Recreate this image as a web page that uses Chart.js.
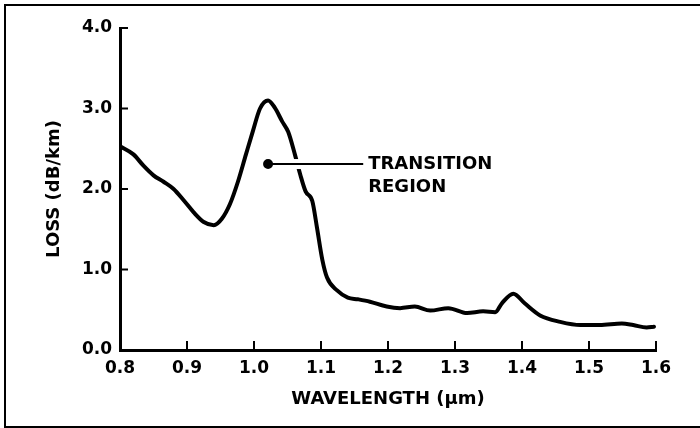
<!DOCTYPE html>
<html>
<head>
<meta charset="utf-8">
<script src="https://cdn.jsdelivr.net/npm/chart.js@4"></script>
<style>
    body { margin: 0; background: #fff; overflow: hidden; }
    .wrap { position: relative; width: 700px; height: 428px; overflow: hidden; }
    .frame {
        position: absolute; left: 4px; top: 4px; width: 720px; height: 420px;
        border-left: 2px solid #000; border-top: 2px solid #000; border-bottom: 2px solid #000;
        pointer-events: none;
    }
</style>
</head>
<body>
<div class="wrap">
    <canvas id="lossChart" width="700" height="428"></canvas>
    <div class="frame"></div>
</div>
<script>
const wavelength = [0.80, 0.82, 0.835, 0.85, 0.865, 0.88, 0.895, 0.91, 0.925, 0.94,
    0.952, 0.964, 0.976, 0.988, 0.998, 1.009, 1.021, 1.031, 1.042, 1.051,
    1.061, 1.069, 1.077, 1.087, 1.094, 1.102, 1.109, 1.124, 1.14, 1.155,
    1.173, 1.198, 1.218, 1.24, 1.263, 1.29, 1.318, 1.342, 1.36, 1.37,
    1.387, 1.404, 1.427, 1.457, 1.487, 1.516, 1.549, 1.566, 1.586, 1.597];
const loss = [2.53, 2.43, 2.29, 2.17, 2.09, 2.00, 1.86, 1.71, 1.59, 1.55,
    1.63, 1.81, 2.09, 2.43, 2.71, 3.00, 3.10, 3.01, 2.84, 2.71,
    2.43, 2.18, 1.97, 1.85, 1.52, 1.12, 0.90, 0.74, 0.65, 0.63,
    0.60, 0.54, 0.52, 0.54, 0.49, 0.52, 0.46, 0.48, 0.47, 0.58,
    0.70, 0.58, 0.43, 0.35, 0.31, 0.31, 0.33, 0.31, 0.28, 0.29];

const xTicks = [0.8, 0.9, 1.0, 1.1, 1.2, 1.3, 1.4, 1.5, 1.6];
const yTicks = [0, 1, 2, 3, 4];

// callout: dot on the peak flank, leader line out to the label
const calloutStart = { x: 1.021, y: 2.31 };
const calloutEnd = { x: 1.163, y: 2.31 };
const calloutText = ['TRANSITION', 'REGION'];

const FONT = '"DejaVu Sans", sans-serif';

// tick marks point into the plot, so draw them by hand
const inwardTicks = {
    id: 'inwardTicks',
    afterDraw(chart) {
        const { ctx, scales: { x, y } } = chart;
        ctx.save();
        ctx.strokeStyle = '#000';
        ctx.lineWidth = 2;
        yTicks.forEach(v => {
            const py = y.getPixelForValue(v);
            ctx.beginPath();
            ctx.moveTo(x.left, py);
            ctx.lineTo(x.left + 8, py);
            ctx.stroke();
        });
        xTicks.forEach(v => {
            const px = x.getPixelForValue(v);
            ctx.beginPath();
            ctx.moveTo(px, y.bottom);
            ctx.lineTo(px, y.bottom - 9);
            ctx.stroke();
        });
        ctx.restore();
    }
};

const calloutLabel = {
    id: 'calloutLabel',
    afterDraw(chart) {
        const { ctx, scales: { x, y } } = chart;
        const px = x.getPixelForValue(calloutEnd.x) + 5;
        const py = y.getPixelForValue(calloutEnd.y);
        ctx.save();
        ctx.fillStyle = '#000';
        ctx.font = 'bold 18px ' + FONT;
        ctx.textBaseline = 'middle';
        ctx.fillText(calloutText[0], px, py);
        ctx.fillText(calloutText[1], px, py + 23);
        ctx.restore();
    }
};

new Chart(document.getElementById('lossChart'), {
    type: 'line',
    data: {
        datasets: [{
            // leader line with its dot
            data: [calloutStart, calloutEnd],
            borderColor: '#000',
            backgroundColor: '#000',
            borderWidth: 2,
            pointRadius: [4, 0],
            tension: 0,
        }, {
            // white gap where the leader crosses the curve
            data: [{ x: 1.045, y: calloutStart.y }, { x: 1.09, y: calloutStart.y }],
            borderColor: '#fff',
            borderWidth: 10,
            pointRadius: 0,
            tension: 0,
        }, {
            data: wavelength.map((w, i) => ({ x: w, y: loss[i] })),
            borderColor: '#000',
            borderWidth: 4,
            pointRadius: 0,
            cubicInterpolationMode: 'monotone',
            borderCapStyle: 'round',
            borderJoinStyle: 'round',
        }],
    },
    options: {
        responsive: false,
        animation: false,
        layout: {
            padding: { top: 28, right: 44, bottom: 0, left: 0 },
        },
        plugins: {
            legend: { display: false },
            tooltip: { enabled: false },
        },
        scales: {
            x: {
                type: 'linear',
                min: 0.8,
                max: 1.6,
                afterBuildTicks: scale => { scale.ticks = xTicks.map(v => ({ value: v })); },
                afterFit: scale => { scale.height = 78; },
                grid: { display: true, drawOnChartArea: false, drawTicks: false },
                border: { display: true, color: '#000', width: 3 },
                ticks: {
                    color: '#000',
                    padding: 8,
                    maxRotation: 0,
                    font: { family: FONT, size: 17, weight: 'bold' },
                    callback: v => v.toFixed(1),
                },
                title: {
                    display: true,
                    text: 'WAVELENGTH (\u03bcm)',
                    color: '#000',
                    padding: { top: 6, bottom: 18 },
                    font: { family: FONT, size: 18, weight: 'bold' },
                },
            },
            y: {
                min: 0,
                max: 4,
                afterBuildTicks: scale => { scale.ticks = yTicks.map(v => ({ value: v })); },
                afterFit: scale => { scale.width = 120; },
                grid: { display: true, drawOnChartArea: false, drawTicks: false },
                border: { display: true, color: '#000', width: 3 },
                ticks: {
                    color: '#000',
                    padding: 8,
                    font: { family: FONT, size: 17, weight: 'bold' },
                    callback: v => v.toFixed(1),
                },
                title: {
                    display: true,
                    text: 'LOSS (dB/km)',
                    color: '#000',
                    padding: { top: 44 },
                    font: { family: FONT, size: 18, weight: 'bold' },
                },
            },
        },
    },
    plugins: [inwardTicks, calloutLabel],
});
</script>
</body>
</html>
